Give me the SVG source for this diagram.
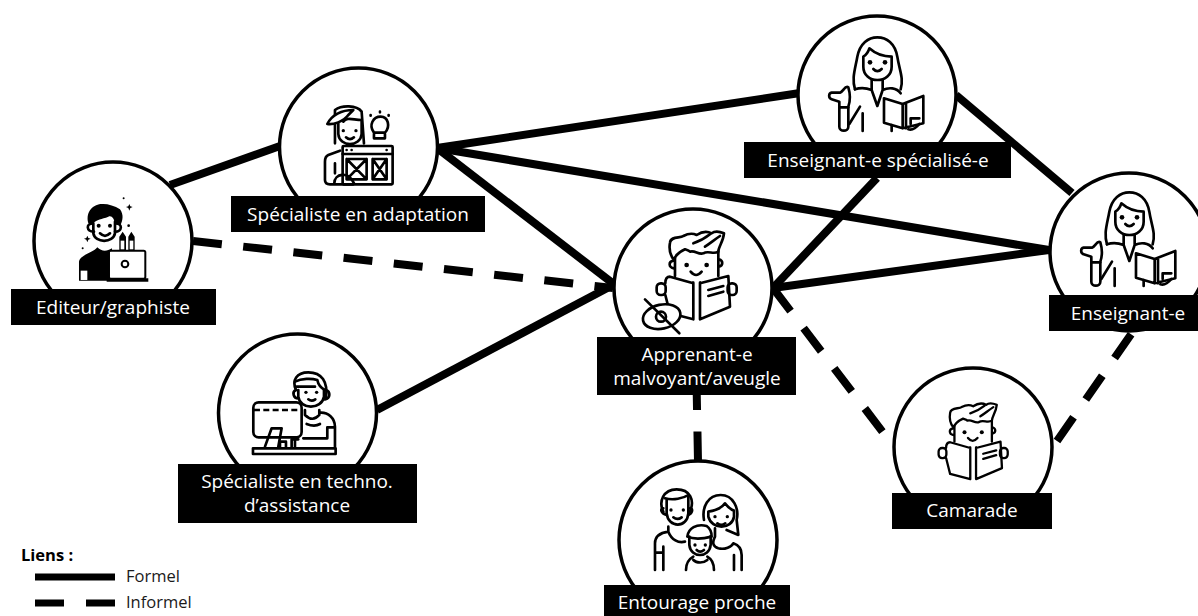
<svg xmlns="http://www.w3.org/2000/svg" width="1198" height="616" viewBox="0 0 1198 616">
<style>
.f{fill:none;stroke:#000;stroke-width:8;stroke-linecap:butt}
.d{fill:none;stroke:#000;stroke-width:8;stroke-dasharray:29 21.5}
.c{fill:#fff;stroke:#000;stroke-width:3.500}
.l{fill:#000}
.t{font-family:"Open Sans","Noto Sans",sans-serif;font-size:19px;fill:#fff;text-anchor:middle}
.k{font-family:"Open Sans","Noto Sans",sans-serif;font-size:16.500px;fill:#1a1a1a}
.i{fill:none;stroke:#000;stroke-width:8;stroke-linecap:round;stroke-linejoin:round}
.w{fill:#fff}
.b{fill:#000;stroke:none}
</style>
<defs>
<g id="teacher" class="i">
<path d="M225 268C215 235 225 210 232 170C240 130 265 112 292 112C320 112 345 130 352 170C358 210 372 235 362 268"/>
<path d="M250 170V200C250 225 270 240 292 240C315 240 335 225 335 200V170C310 170 285 160 268 145C265 155 258 165 250 170Z"/>
<circle class="b" cx="270" cy="187" r="7"/><circle class="b" cx="315" cy="187" r="7"/>
<path d="M280 207Q292 220 305 207"/>
<path d="M275 240V270L292 318L308 270V240M225 268C240 263 262 265 275 270M308 270C325 262 350 262 362 280"/>
<path d="M205 262C195 255 190 275 180 278H155C145 280 145 295 155 298L178 305V380C178 396 205 396 205 380V320C212 300 212 285 205 262Z"/>
<path d="M178 322H205M208 372L240 320M248 340V393M335 375V393"/>
<path d="M312 295L368 312L430 288V370L368 385L312 368ZM368 312V385M378 310V385"/>
<path d="M392 372V355H418M385 388C400 392 410 382 418 372"/>
</g>
<g id="boy" class="i">
<path d="M252 180C240 165 236 150 240 128C242 108 270 115 280 108C295 100 310 100 320 105C335 95 350 92 365 100C375 92 390 95 402 100C400 125 385 140 385 155C370 165 355 150 340 160C325 165 315 150 300 155C295 150 290 150 285 148C270 155 255 168 252 180Z"/>
<path d="M310 130C325 125 345 115 360 103M345 140C360 130 375 118 390 108"/>
<path d="M255 175V228M385 155V228M250 182C235 185 235 202 252 205M387 178C400 182 400 197 387 200"/>
<circle class="b" cx="290" cy="195" r="7"/><circle class="b" cx="350" cy="195" r="7"/>
<path d="M302 215Q318 235 335 215"/>
<path d="M310 250L240 230C230 230 226 238 226 250M226 285L240 340M240 340L310 358M330 250L415 228L420 320L330 358M310 248V358M330 248V358M355 270L400 258M355 288L400 275"/>
<rect x="200" y="250" width="27" height="35" rx="12"/><rect x="413" y="250" width="27" height="35" rx="12"/>
</g>
</defs>

<g id="connectors">
<path class="f" d="M170 185L280 146"/>
<path class="d" d="M193 241L613 288"/>
<path class="f" d="M437 148L800 93"/>
<path class="f" d="M437 148L1049 250"/>
<path class="f" d="M437 148L615 285"/>
<path class="f" d="M377 410L613 285"/>
<path class="f" d="M773 288L877 178"/>
<path class="f" d="M773 288L1049 250"/>
<path class="f" d="M956 95L1072 193"/>
<path class="d" d="M773 288L885 435"/>
<path class="d" d="M1057 441L1134 330"/>
<path class="d" d="M696.500 381L698 461"/>
</g>

<g id="editeur">
<circle class="c" cx="113" cy="241" r="79"/>
<g transform="translate(0 60) scale(.3333)">
<path class="b" d="M265 490C255 450 285 430 310 432C325 432 345 438 360 448C372 465 368 480 362 495L345 490C342 475 335 465 325 470C305 478 290 478 280 490Z"/>
<g class="i"><path d="M280 490V520C285 550 340 550 345 520V485"/>
<path d="M278 490C258 490 258 515 282 515M347 490C368 490 368 515 345 515"/>
<path d="M300 520Q315 535 330 520"/></g>
<circle class="b" cx="296" cy="497" r="6"/><circle class="b" cx="330" cy="497" r="6"/>
<path class="b" d="M237 662V605C240 585 280 578 292 562C305 575 320 575 336 565V662Z"/>
<rect class="w" x="242" y="632" width="20" height="28"/>
<rect x="327" y="572" width="109" height="84" rx="5" fill="#fff" stroke="#000" stroke-width="6"/>
<circle cx="375" cy="612" r="10" fill="none" stroke="#000" stroke-width="6"/>
<path d="M320 660H445" stroke="#000" stroke-width="10" fill="none"/>
<path class="b" d="M358 570V530L368 515L378 530V570ZM385 570V530L394 515L404 530V570Z"/>
<rect class="w" x="362" y="542" width="11" height="26"/><rect class="w" x="389" y="542" width="11" height="26"/>
<path class="b" d="M388 432L391 439L398 441L391 444L388 452L385 444L378 441L385 439ZM262 527L265 534L272 536L265 539L262 547L259 539L252 536L259 534Z"/>
<circle class="b" cx="371" cy="415" r="3"/><circle class="b" cx="386" cy="497" r="4"/><circle class="b" cx="248" cy="565" r="3"/>
</g>
<rect class="l" x="11" y="289" width="205" height="36"/>
<text class="t" x="113" y="314">Editeur/graphiste</text>
</g>

<g id="specialiste-adaptation">
<circle class="c" cx="358.500" cy="147" r="79"/>
<g transform="translate(0 60) scale(.3333)" class="i">
<path d="M1005 250V150C1025 135 1070 135 1085 155L1092 250"/>
<path d="M1015 190V222C1018 262 1082 262 1085 222V180C1060 180 1040 170 1030 185"/>
<path d="M982 192C995 165 1025 150 1060 150L1045 165C1030 185 1000 195 982 192Z" fill="#fff"/>
<circle class="b" cx="1030" cy="212" r="5"/><circle class="b" cx="1068" cy="212" r="5"/>
<path d="M1038 232Q1050 243 1062 232"/>
<path d="M1122 218C1105 195 1120 170 1142 170C1165 170 1172 200 1155 218V235H1122ZM1122 218H1155"/>
<path d="M1140 155V157M1112 165V167M1166 165V167"/>
<rect x="1028" y="258" width="150" height="115" rx="3" fill="#fff"/>
<path d="M1028 282H1178"/>
<circle class="b" cx="1040" cy="270" r="4"/><circle class="b" cx="1055" cy="270" r="4"/><circle class="b" cx="1160" cy="270" r="4"/>
<path d="M1040 297H1100V358H1040ZM1040 297L1100 358M1100 297L1040 358M1118 297H1160V358H1118ZM1118 297L1160 358M1160 297L1118 358"/>
<path d="M1020 272L985 285C978 288 975 295 975 305V360C975 370 980 373 990 373H1060"/>
<path d="M1003 370C1003 340 1045 332 1062 370M1005 310V340"/>
</g>
<rect class="l" x="231" y="196" width="254" height="36"/>
<text class="t" x="358" y="221">Spécialiste en adaptation</text>
</g>

<g id="apprenant">
<circle class="c" cx="693" cy="288" r="79"/>
<use href="#boy" transform="translate(590 200) scale(.3333)"/>
<g transform="translate(590 200) scale(.3333)" class="i">
<ellipse cx="215" cy="350" rx="57" ry="36" transform="rotate(-12 215 350)" fill="#fff"/>
<circle cx="213" cy="350" r="15"/>
<path d="M165 298L268 400" stroke-width="8"/>
</g>
<rect class="l" x="597" y="337" width="199" height="58"/>
<text class="t" x="697" y="361">Apprenant-e</text>
<text class="t" x="697" y="385">malvoyant/aveugle</text>
</g>

<g id="enseignant-specialise">
<circle class="c" cx="877" cy="95" r="79"/>
<use href="#teacher" transform="translate(780 0) scale(.3333)"/>
<rect class="l" x="744" y="142" width="267" height="36"/>
<text class="t" x="878" y="167">Enseignant-e spécialisé-e</text>
</g>

<g id="enseignant">
<circle class="c" cx="1129" cy="252" r="79"/>
<use href="#teacher" transform="translate(1032 155) scale(.3333)"/>
<rect class="l" x="1049" y="295" width="149" height="36"/>
<text class="t" x="1128" y="320">Enseignant-e</text>
</g>

<g id="specialiste-techno">
<circle class="c" cx="297.500" cy="413" r="79"/>
<g transform="translate(0 340) scale(.3333)" class="i">
<path d="M888 150C875 120 890 97 925 97C965 97 985 125 978 175"/>
<path d="M885 125C905 115 935 115 952 120C955 135 965 145 975 150M890 140H945"/>
<path d="M895 150V170C900 210 965 210 972 170V150M888 150C875 155 880 175 895 175M978 150C992 155 992 175 975 178"/>
<circle class="b" cx="918" cy="157" r="5"/><circle class="b" cx="950" cy="157" r="5"/>
<path d="M925 178Q935 186 946 178"/>
<path d="M915 210V225C930 240 945 240 958 225V210M958 218C985 215 1005 235 1005 260V320M920 252C935 258 950 258 960 252M1005 262H982V295H910"/>
<rect x="760" y="187" width="145" height="105" rx="16"/>
<path d="M762 210H900" stroke-dasharray="18 10" stroke-linecap="butt"/>
<path d="M795 320L815 265H845L835 320"/>
<path d="M840 320V305H858V320M875 320V298H895M885 298V320"/>
<rect x="759" y="325" width="248" height="17"/>
</g>
<rect class="l" x="178" y="464" width="239" height="59"/>
<text class="t" x="297" y="488">Spécialiste en techno.</text>
<text class="t" x="297" y="512">d’assistance</text>
</g>

<g id="entourage">
<circle class="c" cx="698" cy="540" r="79"/>
<g transform="translate(600 380) scale(.3333)" class="i">
<path d="M190 395C175 365 190 328 230 328C270 328 285 360 270 395"/>
<path d="M195 355C220 362 250 355 265 345M200 360V400C205 445 262 445 265 400V350"/>
<path d="M190 385C180 385 182 400 200 405M270 385C280 385 278 400 265 405"/>
<circle class="b" cx="213" cy="390" r="5"/><circle class="b" cx="250" cy="390" r="5"/>
<path d="M220 412Q232 422 245 412"/>
<path d="M205 440V455C215 480 235 490 255 485M205 455C185 458 165 465 165 490V570M165 518H190V570M190 500V570"/>
<path d="M312 420C305 380 325 345 362 345C400 345 418 385 410 420L415 465L380 450"/>
<path d="M325 395C345 392 365 385 375 370C385 382 395 390 402 392V410C395 450 335 450 325 410Z"/>
<circle class="b" cx="345" cy="410" r="5"/><circle class="b" cx="382" cy="410" r="5"/>
<path d="M352 430Q364 440 376 430"/>
<path d="M345 445V470C335 490 340 500 355 505C375 510 395 500 400 490M400 490C415 495 425 505 425 525V570M402 525V570"/>
<path d="M262 470C265 445 290 430 320 438C330 445 335 455 335 470C315 475 285 480 262 470Z" fill="#fff"/>
<path d="M268 470V495C272 535 328 535 332 495V468"/>
<circle class="b" cx="285" cy="495" r="5"/><circle class="b" cx="316" cy="495" r="5"/>
<path d="M290 510Q300 520 312 510"/>
<path d="M280 530C262 540 258 555 258 570M322 530C340 540 342 555 342 570M280 540C290 550 310 550 322 540"/>
</g>
<rect class="l" x="604" y="585" width="186" height="31"/>
<text class="t" x="697" y="609">Entourage proche</text>
</g>

<g id="camarade">
<circle class="c" cx="973" cy="447" r="79"/>
<use href="#boy" transform="translate(881 376) scale(.288)"/>
<rect class="l" x="892" y="493" width="160" height="36"/>
<text class="t" x="972" y="517">Camarade</text>
</g>

<g id="legende">
<text class="k" x="21" y="561" style="font-weight:700;fill:#000">Liens :</text>
<path d="M35 577H115" stroke="#000" stroke-width="7" fill="none"/>
<path d="M35 603H64M86 603H115" stroke="#000" stroke-width="7" fill="none"/>
<text class="k" x="126" y="582">Formel</text>
<text class="k" x="126" y="608">Informel</text>
</g>
</svg>
